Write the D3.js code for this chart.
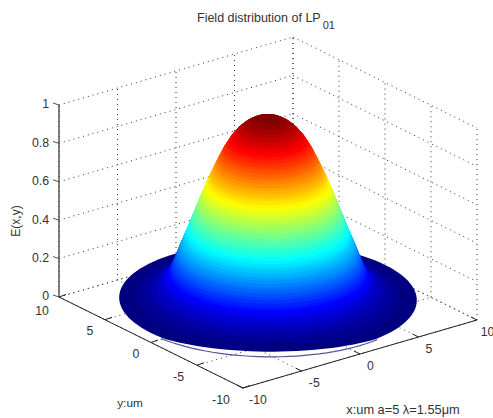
<!DOCTYPE html>
<html><head><meta charset="utf-8"><script src="https://cdn.jsdelivr.net/npm/d3@7"></script>
<style>html,body{margin:0;background:#fff}text{font-family:"Liberation Sans",Arial,sans-serif;fill:#333}</style></head>
<body><svg id="c" width="493" height="418"></svg>
<script>
const xTicks=[-10,-5,0,5,10];
const yTicks=[-10,-5,0,5,10];
const zTicks=[0,0.2,0.4,0.6,0.8,1];
const zLabels=["0","0.2","0.4","0.6","0.8","1"];
// radial profile of the surface
const radius=[10,9.5,9,8.5,8,7.5,7,6.6,6.3,6,5.5,5,4.5,4,3.5,3,2.5,2,1.5,1,0.5,0];
const field=[0.05,0.056,0.064,0.075,0.09,0.11,0.14,0.19,0.24,0.30,0.39,0.485,0.58,0.67,0.75,0.825,0.885,0.93,0.962,0.984,0.996,1];
const rimRadius=10, rimHeight=0.044;

const svg=d3.select("#c");
const cx=268,cy=308.5;
const px=d3.scaleLinear().domain([-10,10]).range([-117,117]);
const py=d3.scaleLinear().domain([-10,10]).range([92,-92]);
const qx=d3.scaleLinear().domain([-10,10]).range([34,-34]);
const qy=d3.scaleLinear().domain([-10,10]).range([45.5,-45.5]);
const zS=d3.scaleLinear().domain([0,1]).range([0,192]);
const P=(x,y,z=0)=>[cx+px(x)+py(y),cy+qx(x)+qy(y)-zS(z)];
const line=(a,b,st)=>svg.append("line").attr("x1",a[0]).attr("y1",a[1]).attr("x2",b[0]).attr("y2",b[1]).attr("stroke",st.c).attr("stroke-width",st.w||1).attr("stroke-dasharray",st.d||null);
const dot={c:"#333",w:1,d:"1 4"};
// grid: back walls & floor
zTicks.forEach(z=>{line(P(-10,10,z),P(10,10,z),dot);line(P(10,10,z),P(10,-10,z),dot);});
xTicks.forEach(x=>{line(P(x,10,0),P(x,10,1),dot);line(P(x,-10,0),P(x,10,0),dot);});
yTicks.forEach(y=>{line(P(10,y,0),P(10,y,1),dot);line(P(-10,y,0),P(10,y,0),dot);});
// axes
const ax={c:"#222",w:1};
line(P(-10,-10,0),P(10,-10,0),ax);
line(P(-10,-10,0),P(-10,10,0),ax);
line(P(-10,10,0),P(-10,10,1),{c:"#555",w:1.5});
xTicks.forEach(x=>{const a=P(x,-10,0);line(a,[a[0]-6,a[1]-3],ax);});
yTicks.forEach(y=>{const a=P(-10,y,0);line(a,[a[0]+7,a[1]-2.5],ax);});
zTicks.forEach(z=>{const a=P(-10,10,z);line(a,[a[0]-6,a[1]-2],{c:"#555",w:1});});
const txt=(x,y,s,o={})=>svg.append("text").attr("x",x).attr("y",y).attr("font-size",o.fs||12.3).attr("text-anchor",o.a||"middle").attr("transform",o.t||null).text(s);
zTicks.forEach((z,i)=>{const a=P(-10,10,z);txt(49,a[1]+3.3,zLabels[i],{a:"end"});});
xTicks.forEach(x=>{const a=P(x,-10,0);txt(a[0]+10.5+Math.max(0,-x)*0.45,a[1]+16.3,String(x));});
yTicks.forEach(y=>{const a=P(-10,y,0);txt(a[0]-15-Math.max(0,-y)*0.7-(y===10?2:0),a[1]+15.5+Math.max(0,(y-5)/5*2.5),String(y));});
txt(20,221,"E(x,y)",{t:"rotate(-90 20 221)",fs:12});
txt(130,407,"y:um",{fs:11.8});
txt(403,414,"x:um a=5  λ=1.55μm",{fs:12.8});
const tt=svg.append("text").attr("x",197).attr("y",22).attr("font-size",12.5);
tt.append("tspan").text("Field distribution of LP");
tt.append("tspan").attr("dx",2).attr("dy",6.5).attr("font-size",11).text("01");
// surface: nested discs from the rim to the top, coloured with a 64-step jet map
const jet=t=>{t=Math.min(63,Math.floor(t*64))/63;const c=v=>Math.round(255*Math.max(0,Math.min(1,v)));return `rgb(${c(Math.min(4*t-1.5,-4*t+4.5))},${c(Math.min(4*t-0.5,-4*t+3.5))},${c(Math.min(4*t+0.5,-4*t+2.5))})`;};
const cmap=d3.scaleLinear().domain([d3.min(field),1]).range([0,1]);
const deg=d3.range(0,361,3);
const curve=(r,z)=>{const c=P(0,0,z);return d3.line()(deg.map(d=>{const a=d*Math.PI/180,p=P(r*Math.cos(a),r*Math.sin(a),z);
  const dy=p[1]-c[1];return [p[0],c[1]+(dy>40?40+(dy-40)*0.76:dy)];}))+"Z";};
// rim line visible under the front of the disc
const frontArc=deg.map(d=>d*Math.PI/180).map(a=>P(rimRadius*Math.cos(a),rimRadius*Math.sin(a),rimHeight)).filter(p=>Math.abs(p[0]-cx)<110&&p[1]>cy);
frontArc.sort((a,b)=>a[0]-b[0]);
svg.append("path").attr("d",d3.line()(frontArc)).attr("fill","none").attr("stroke","#55558f").attr("stroke-width",1.2);
const rIp=d3.scaleLinear().domain(field).range(radius);
const levels=d3.range(0,300).map(i=>field[0]+(1-field[0])*i/299);
levels.forEach(z=>{const r=rIp(z);svg.append("path").attr("d",curve(r,z)).attr("fill",jet(cmap(z)));});
</script></body></html>
